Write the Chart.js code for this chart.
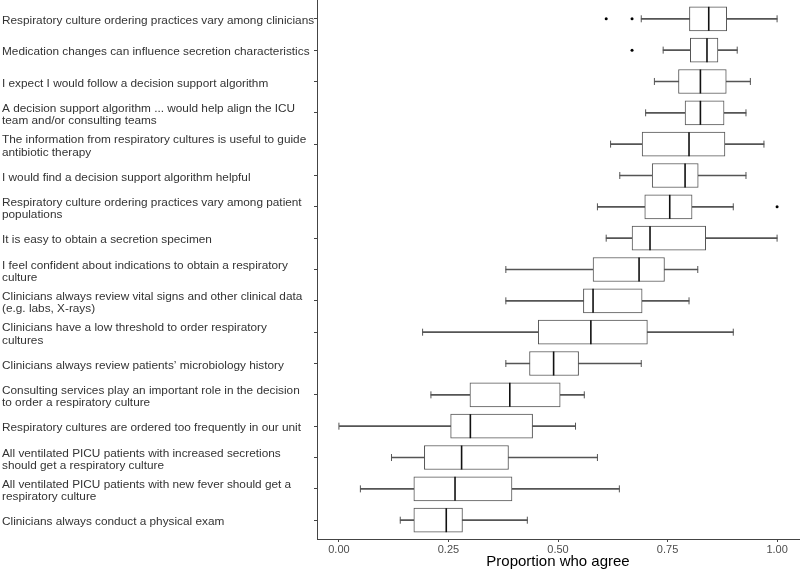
<!DOCTYPE html>
<html>
<head>
<meta charset="utf-8">
<script src="https://cdn.jsdelivr.net/npm/chart.js@4"></script>
<style>
  html, body { margin: 0; padding: 0; background: #fff; }
  #wrap { width: 800px; height: 569px; }
</style>
</head>
<body>
<div id="wrap"><canvas id="box-plot"></canvas></div>
<script>
// Survey statements, top to bottom
const statements = [
  'Respiratory culture ordering practices vary among clinicians',
  'Medication changes can influence secretion characteristics',
  'I expect I would follow a decision support algorithm',
  ['A decision support algorithm ... would help align the ICU', 'team and/or consulting teams'],
  ['The information from respiratory cultures is useful to guide', 'antibiotic therapy'],
  'I would find a decision support algorithm helpful',
  ['Respiratory culture ordering practices vary among patient', 'populations'],
  'It is easy to obtain a secretion specimen',
  ['I feel confident about indications to obtain a respiratory', 'culture'],
  ['Clinicians always review vital signs and other clinical data', '(e.g. labs, X-rays)'],
  ['Clinicians have a low threshold to order respiratory', 'cultures'],
  'Clinicians always review patients\u2019 microbiology history',
  ['Consulting services play an important role in the decision', 'to order a respiratory culture'],
  'Respiratory cultures are ordered too frequently in our unit',
  ['All ventilated PICU patients with increased secretions', 'should get a respiratory culture'],
  ['All ventilated PICU patients with new fever should get a', 'respiratory culture'],
  'Clinicians always conduct a physical exam'
];

// five-number summaries
const whiskerLow = [0.690, 0.740, 0.720, 0.700, 0.620, 0.641, 0.590, 0.610, 0.381, 0.381, 0.191, 0.381, 0.210, 0.000, 0.120, 0.049, 0.140];
const q1         = [0.800, 0.802, 0.775, 0.790, 0.692, 0.715, 0.698, 0.669, 0.580, 0.558, 0.455, 0.435, 0.299, 0.255, 0.195, 0.171, 0.171];
const median     = [0.844, 0.840, 0.825, 0.825, 0.799, 0.790, 0.755, 0.710, 0.685, 0.580, 0.575, 0.490, 0.390, 0.300, 0.280, 0.265, 0.245];
const q3         = [0.885, 0.865, 0.884, 0.879, 0.881, 0.820, 0.806, 0.837, 0.743, 0.692, 0.704, 0.547, 0.505, 0.442, 0.387, 0.395, 0.282];
const whiskerHigh= [1.000, 0.909, 0.939, 0.929, 0.970, 0.929, 0.900, 1.000, 0.819, 0.799, 0.900, 0.690, 0.560, 0.540, 0.590, 0.640, 0.430];

// outliers as [row, value]
const outliers = [[0, 0.610], [0, 0.669], [1, 0.669], [6, 1.000]];

const xTicks = [0, 0.25, 0.5, 0.75, 1];

const rows = statements.map((_, i) => i);

const ctx = document.getElementById('box-plot').getContext('2d');
new Chart(ctx, {
  type: 'bar',
  data: {
    datasets: [
      {
        // whisker line from low to high, hidden under the box
        type: 'bar',
        data: rows.map(i => ({ x: [whiskerLow[i], whiskerHigh[i]], y: i })),
        backgroundColor: '#555',
        borderWidth: 0,
        barThickness: 1,
        grouped: false,
        order: 5
      },
      {
        // whisker end caps
        type: 'scatter',
        data: rows.flatMap(i => [{ x: whiskerLow[i], y: i }, { x: whiskerHigh[i], y: i }]),
        pointStyle: 'line',
        rotation: 90,
        radius: 3.5,
        borderColor: '#555',
        borderWidth: 1,
        order: 4
      },
      {
        // interquartile box
        type: 'bar',
        data: rows.map(i => ({ x: [q1[i], q3[i]], y: i })),
        backgroundColor: '#fff',
        borderColor: '#555',
        borderWidth: 1,
        borderSkipped: false,
        barThickness: 24,
        grouped: false,
        order: 3
      },
      {
        // median
        type: 'scatter',
        data: rows.map(i => ({ x: median[i], y: i })),
        pointStyle: 'line',
        rotation: 90,
        radius: 12,
        borderColor: '#111',
        borderWidth: 1.6,
        order: 2
      },
      {
        type: 'scatter',
        data: outliers.map(o => ({ x: o[1], y: o[0] })),
        pointStyle: 'circle',
        radius: 1.5,
        backgroundColor: '#000',
        borderWidth: 0,
        order: 1
      }
    ]
  },
  options: {
    indexAxis: 'y',
    responsive: true,
    maintainAspectRatio: false,
    animation: false,
    layout: { autoPadding: false, padding: { left: 2, right: 1, top: 0, bottom: 0 } },
    plugins: {
      legend: { display: false },
      tooltip: { enabled: false }
    },
    scales: {
      x: {
        type: 'linear',
        min: -0.05,
        max: 1.05,
        afterBuildTicks: scale => { scale.ticks = xTicks.map(v => ({ value: v })); },
        afterFit: scale => { scale.height = 30; },
        ticks: {
          callback: v => v.toFixed(2),
          color: '#4d4d4d',
          font: { family: 'Liberation Sans, Arial', size: 11 },
          padding: 1,
          maxRotation: 0
        },
        grid: { drawOnChartArea: false, tickLength: 3, color: '#444' },
        border: { color: '#444', width: 1 },
        title: {
          display: true,
          text: 'Proportion who agree',
          color: '#000',
          font: { family: 'Liberation Sans, Arial', size: 15, lineHeight: 1 },
          padding: { top: 0, bottom: 0 }
        }
      },
      y: {
        type: 'linear',
        reverse: true,
        offset: false,
        min: -0.6,
        max: 16.6,
        afterBuildTicks: scale => { scale.ticks = rows.map(v => ({ value: v })); },
        afterFit: scale => { scale.width = 315; scale.paddingTop = 0; scale.paddingBottom = 0; },
        ticks: {
          callback: v => statements[v],
          color: '#333',
          crossAlign: 'far',
          labelOffset: 2,
          font: { family: 'Liberation Sans, Arial', size: 11.8, lineHeight: 1.05 },
          padding: 3
        },
        grid: { drawOnChartArea: false, offset: false, tickLength: 3, color: '#444' },
        border: { color: '#444', width: 1 }
      }
    }
  }
});
</script>
</body>
</html>
